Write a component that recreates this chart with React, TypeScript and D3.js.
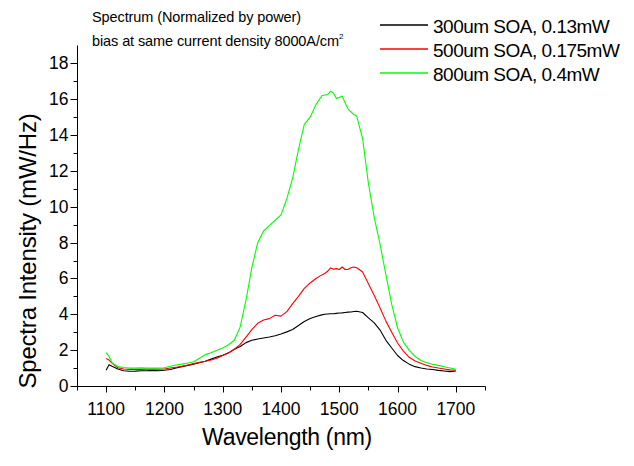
import React from "react";
import * as d3 from "d3";

const wavelengths = [
  1100, 1105, 1110, 1120, 1130, 1140, 1150, 1160, 1170, 1180, 1190, 1200,
  1210, 1220, 1230, 1240, 1250, 1260, 1270, 1280, 1290, 1300, 1310, 1320,
  1330, 1340, 1350, 1360, 1370, 1380, 1390, 1400, 1410, 1420, 1430, 1440,
  1450, 1460, 1470, 1475, 1480, 1485, 1490, 1495, 1500, 1505, 1510, 1515,
  1520, 1525, 1530, 1540, 1550, 1560, 1570, 1580, 1590, 1600, 1610, 1620,
  1630, 1640, 1650, 1660, 1670, 1680, 1690, 1700,
];

const soa300 = [
  0.88, 1.19, 1.1, 0.95, 0.85, 0.82, 0.83, 0.85, 0.85, 0.87, 0.85, 0.88,
  0.92, 1.0, 1.08, 1.15, 1.22, 1.3, 1.38, 1.5, 1.62, 1.72, 1.85, 2.05,
  2.2, 2.42, 2.55, 2.62, 2.68, 2.73, 2.8, 2.9, 3.02, 3.15, 3.38, 3.6,
  3.77, 3.88, 3.97, 4.0, 4.02, 4.03, 4.03, 4.05, 4.07, 4.08, 4.1, 4.12,
  4.13, 4.16, 4.17, 4.1, 3.8, 3.52, 3.12, 2.55, 2.12, 1.7, 1.42, 1.22,
  1.08, 1.0, 0.95, 0.92, 0.87, 0.84, 0.8, 0.84,
];

const soa500 = [
  1.53, 1.45, 1.28, 1.02, 0.95, 0.93, 0.93, 0.93, 0.94, 0.94, 0.94, 0.95,
  1.0, 1.05, 1.1, 1.17, 1.25, 1.32, 1.38, 1.45, 1.55, 1.7, 1.84, 2.05,
  2.32, 2.73, 3.15, 3.5, 3.68, 3.76, 3.95, 3.9, 4.15, 4.6, 5.0, 5.45,
  5.75, 6.0, 6.2, 6.28, 6.4, 6.59, 6.52, 6.55, 6.5, 6.64, 6.5, 6.5,
  6.6, 6.64, 6.6, 6.36, 5.7, 5.05, 4.35, 3.62, 3.0, 2.4, 1.95, 1.6,
  1.4, 1.27, 1.15, 1.06, 1.0, 0.95, 0.9, 0.88,
];

const soa800 = [
  1.86, 1.65, 1.3, 1.08, 1.03, 1.0, 1.0, 1.01, 1.0, 1.0, 1.0, 1.02,
  1.1, 1.17, 1.22, 1.28, 1.35, 1.55, 1.75, 1.85, 2.0, 2.12, 2.3, 2.55,
  3.3, 4.8, 6.6, 8.0, 8.65, 8.95, 9.25, 9.55, 10.45, 11.6, 13.2, 14.6,
  15.0, 15.7, 16.2, 16.24, 16.26, 16.45, 16.35, 16.05, 16.1, 16.18, 15.8, 15.45,
  15.3, 15.15, 15.05, 13.8, 11.3, 9.4, 7.9, 6.2, 4.55, 3.25, 2.45, 1.99,
  1.65, 1.42, 1.3, 1.21, 1.15, 1.07, 1.0, 0.93,
];

const seriesNames = ["300um SOA, 0.13mW", "500um SOA, 0.175mW", "800um SOA, 0.4mW"];
const seriesColors = ["#000000", "#ff0000", "#00ff00"];
const seriesValues = [soa300, soa500, soa800];

const xMajorTicks = [1100, 1200, 1300, 1400, 1500, 1600, 1700];
const xMinorTicks = [1050, 1150, 1250, 1350, 1450, 1550, 1650, 1750];
const yMajorTicks = [0, 2, 4, 6, 8, 10, 12, 14, 16, 18];
const yMinorTicks = [1, 3, 5, 7, 9, 11, 13, 15, 17];

const titleLine1 = "Spectrum (Normalized by power)";
const titleLine2 = "bias at same current density 8000A/cm";
const xTitle = "Wavelength (nm)";
const yTitle = "Spectra Intensity (mW/Hz)";

const FONT = "Arial, 'Liberation Sans', Helvetica, sans-serif";

export default function App() {
  const W = 634;
  const H = 466;
  const x = d3.scaleLinear().domain([1050, 1750]).range([77, 485]);
  const y = d3.scaleLinear().domain([0, 19]).range([386, 45.5]);

  const line = d3
    .line<[number, number]>()
    .x((d) => x(d[0]))
    .y((d) => y(d[1]));

  const x0 = x(1050) + 0.5;
  const y0 = y(0) + 0.5;

  return (
    <svg
      width={W}
      height={H}
      style={{ position: "absolute", left: 0, top: 0, background: "#fff", fontFamily: FONT }}
    >
      <rect x={0} y={0} width={W} height={H} fill="#fff" />
      {/* series */}
      {seriesValues.map((vals, i) => (
        <path
          key={i}
          d={line(wavelengths.map((w, j) => [w, vals[j]] as [number, number])) || ""}
          fill="none"
          stroke={seriesColors[i]}
          strokeWidth={1.1}
          strokeLinejoin="round"
        />
      ))}

      {/* axes */}
      <line x1={x0} x2={x(1750) + 0.5} y1={y0} y2={y0} stroke="#000" strokeWidth={1} />
      <line x1={x0} x2={x0} y1={y0} y2={y(19)} stroke="#000" strokeWidth={1} />

      {xMajorTicks.map((t) => (
        <g key={"xm" + t}>
          <line x1={Math.round(x(t)) + 0.5} x2={Math.round(x(t)) + 0.5} y1={y0} y2={y0 + 6} stroke="#000" />
          <text x={x(t)} y={415} fontSize={17.5} textAnchor="middle" fill="#000">
            {t}
          </text>
        </g>
      ))}
      {xMinorTicks.map((t) => (
        <line key={"xn" + t} x1={Math.round(x(t)) + 0.5} x2={Math.round(x(t)) + 0.5} y1={y0} y2={y0 + 4} stroke="#000" />
      ))}
      {yMajorTicks.map((t) => (
        <g key={"ym" + t}>
          <line x1={x0 - 7} x2={x0} y1={Math.round(y(t)) + 0.5} y2={Math.round(y(t)) + 0.5} stroke="#000" />
          <text x={x0 - 9} y={y(t) + 6} fontSize={17.5} textAnchor="end" fill="#000">
            {t}
          </text>
        </g>
      ))}
      {yMinorTicks.map((t) => (
        <line key={"yn" + t} x1={x0 - 4} x2={x0} y1={Math.round(y(t)) + 0.5} y2={Math.round(y(t)) + 0.5} stroke="#000" />
      ))}

      {/* axis titles */}
      <text x={287} y={445} fontSize={23} textAnchor="middle" fill="#000" letterSpacing={-0.3}>
        {xTitle}
      </text>
      <text
        transform={`translate(36, 251) rotate(-90)`}
        fontSize={24}
        textAnchor="middle"
        fill="#000"
        letterSpacing={-0.2}
      >
        {yTitle}
      </text>

      {/* title */}
      <text x={92} y={22} fontSize={14.5} fill="#000" letterSpacing={-0.1}>
        {titleLine1}
      </text>
      <text x={92} y={46} fontSize={14.5} fill="#000" letterSpacing={-0.1}>
        {titleLine2}
        <tspan dy={-7} fontSize={8}>
          2
        </tspan>
      </text>

      {/* legend */}
      {seriesNames.map((name, i) => {
        const by = 33 + i * 24;
        return (
          <g key={"lg" + i}>
            <line x1={380} x2={428} y1={by - 8} y2={by - 8} stroke={seriesColors[i]} strokeWidth={1.3} />
            <text x={433} y={by} fontSize={19} fill="#000" letterSpacing={-0.5}>
              {name}
            </text>
          </g>
        );
      })}
    </svg>
  );
}
